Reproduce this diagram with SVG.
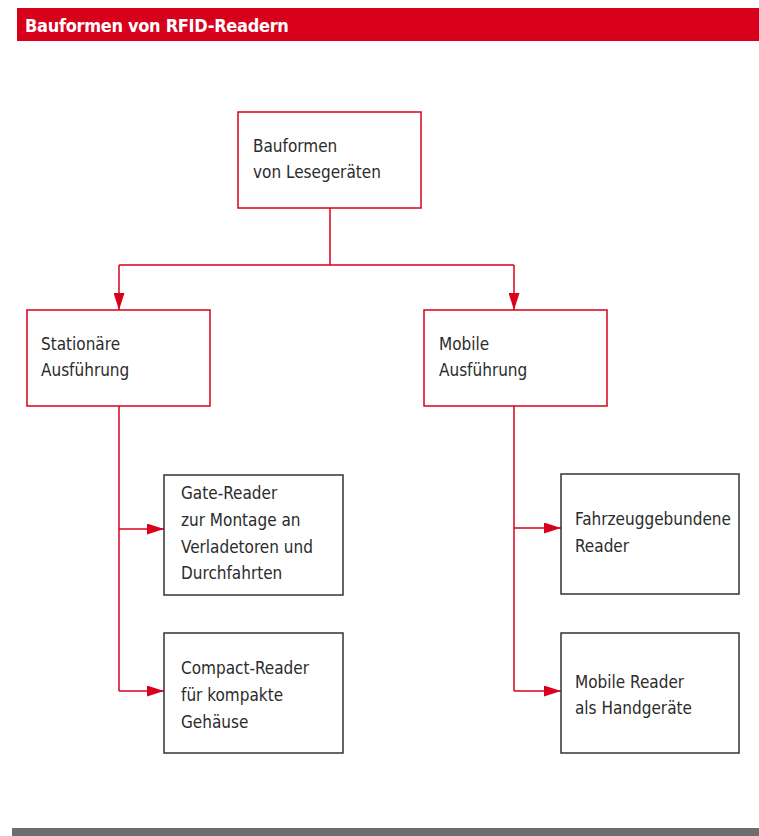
<svg xmlns="http://www.w3.org/2000/svg" width="759" height="836" viewBox="0 0 759 836">
<style>
.t{font-family:"DejaVu Sans Condensed","Liberation Sans Narrow","Liberation Sans",sans-serif;font-size:17px;fill:#2b2b2b}
.title{font-family:"DejaVu Sans Condensed","Liberation Sans Narrow","Liberation Sans",sans-serif;font-size:18px;font-weight:bold;letter-spacing:-0.3px;fill:#fff}
.rb{fill:#fff;stroke:#d9001b;stroke-width:1.5}
.gb{fill:#fff;stroke:#333;stroke-width:1.5}
.c{fill:none;stroke:#d9001b;stroke-width:1.5}
</style>
<defs>
<marker id="ah" viewBox="0 0 17 11" refX="17" refY="5.5" markerWidth="17" markerHeight="11" markerUnits="userSpaceOnUse" orient="auto">
<path d="M0,0 L17,5.5 L0,11 Z" fill="#d9001b"/>
</marker>
</defs>
<rect x="17" y="8" width="742" height="33" fill="#d9001b"/>
<text class="title" x="25" y="32">Bauformen von RFID-Readern</text>
<rect x="12" y="828" width="747" height="8" fill="#6d6d70"/>
<g id="connectors">
<path class="c" d="M330,208 V265 M119,265 H514"/>
<path class="c" d="M119,265 V310" marker-end="url(#ah)"/>
<path class="c" d="M514,265 V310" marker-end="url(#ah)"/>
<path class="c" d="M119,406 V691"/>
<path class="c" d="M119,529 H164" marker-end="url(#ah)"/>
<path class="c" d="M119,691 H164" marker-end="url(#ah)"/>
<path class="c" d="M514,406 V691"/>
<path class="c" d="M514,528 H561" marker-end="url(#ah)"/>
<path class="c" d="M514,691 H561" marker-end="url(#ah)"/>
</g>
<g id="root">
<rect class="rb" x="238" y="112" width="183" height="96"/>
<text class="t" x="253" y="152">Bauformen</text>
<text class="t" x="253" y="178">von Lesegeräten</text>
</g>
<g id="stationaer">
<rect class="rb" x="27" y="310" width="183" height="96"/>
<text class="t" x="41" y="350">Stationäre</text>
<text class="t" x="41" y="376">Ausführung</text>
</g>
<g id="mobil">
<rect class="rb" x="424" y="310" width="183" height="96"/>
<text class="t" x="439" y="350">Mobile</text>
<text class="t" x="439" y="376">Ausführung</text>
</g>
<g id="gate">
<rect class="gb" x="164" y="475" width="179" height="120"/>
<text class="t" x="181" y="499">Gate-Reader</text>
<text class="t" x="181" y="526">zur Montage an</text>
<text class="t" x="181" y="553">Verladetoren und</text>
<text class="t" x="181" y="579">Durchfahrten</text>
</g>
<g id="compact">
<rect class="gb" x="164" y="633" width="179" height="120"/>
<text class="t" x="181" y="674">Compact-Reader</text>
<text class="t" x="181" y="701">für kompakte</text>
<text class="t" x="181" y="728">Gehäuse</text>
</g>
<g id="fahrzeug">
<rect class="gb" x="561" y="474" width="178" height="120"/>
<text class="t" x="575" y="525">Fahrzeuggebundene</text>
<text class="t" x="575" y="552">Reader</text>
</g>
<g id="hand">
<rect class="gb" x="561" y="633" width="178" height="120"/>
<text class="t" x="575" y="688">Mobile Reader</text>
<text class="t" x="575" y="714">als Handgeräte</text>
</g>
</svg>
